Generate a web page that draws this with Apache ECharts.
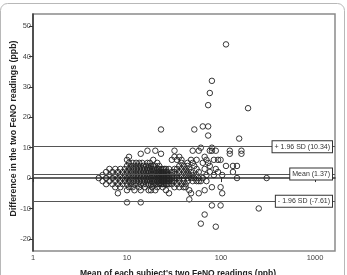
<!DOCTYPE html>
<html>
<head>
<meta charset="utf-8">
<title>FeNO Bland-Altman</title>
<script src="https://cdn.jsdelivr.net/npm/echarts@6/dist/echarts.min.js"></script>
<style>
    html, body { margin: 0; padding: 0; background: #fff; }
    #bland_altman { width: 347px; height: 275px; }
</style>
</head>
<body>
<div id="bland_altman"></div>
<script>

// Data
// ------------------------------

// Mean of the two readings (ppb) and the differences seen at that mean
var readingGroups = [
    [5, [0]],
    [5.5, [-1, 1]],
    [6, [-2, 0, 2]],
    [6.5, [-1, 1, 3]],
    [7, [-2, 0, 2]],
    [7.5, [-3, -1, 1, 3]],
    [8, [-5, -2, 0, 2]],
    [8.5, [-3, -1, 1, 3]],
    [9, [-2, 0, 2]],
    [9.5, [-1, 1, 3]],
    [10, [-8, -4, -2, 0, 2, 4, 6]],
    [10.5, [-3, -1, 1, 3, 5, 7]],
    [11, [-2, 0, 2, 4]],
    [11.5, [-3, -1, 1, 3, 5]],
    [12, [-4, -2, 0, 2, 4]],
    [12.5, [-1, 1, 3, 5]],
    [13, [-2, 0, 2, 4]],
    [13.5, [-3, -1, 1, 3, 5]],
    [14, [-8, -4, -2, 0, 2, 4, 8]],
    [14.5, [-1, 1, 3, 5]],
    [15, [-2, 0, 2, 4]],
    [15.5, [-3, -1, 1, 3]],
    [16, [-2, 0, 2, 4]],
    [16.5, [-1, 1, 3, 5, 9]],
    [17, [-4, -2, 0, 2, 4]],
    [17.5, [-1, 1, 3, 5]],
    [18, [-4, -2, 0, 2, 4]],
    [18.5, [-3, -1, 1, 3]],
    [19, [-2, 0, 2, 4, 6]],
    [19.5, [-1, 1, 3]],
    [20, [-4, -2, 0, 2, 4, 9]],
    [21, [-3, -2, -1, 0, 1, 2, 3, 5]],
    [22, [-2, -1, 0, 1, 2, 3, 4]],
    [23, [-2, -1, 0, 1, 2, 3, 8, 16]],
    [24, [-3, -2, -1, 0, 1, 2, 3]],
    [25, [-2, -1, 0, 1, 2, 3]],
    [26, [-4, -2, -1, 0, 1, 2, 3]],
    [27, [-2, -1, 0, 1, 2]],
    [28, [-5, -2, -1, 0, 1, 3]],
    [30, [-2, -1, 0, 1, 2, 6]],
    [32, [-3, -1, 0, 2, 3, 7, 9]],
    [34, [-2, 0, 1, 3, 6]],
    [36, [-3, -1, 0, 2, 4, 7]],
    [38, [-2, 1, 3, 5, 6]],
    [40, [-3, -1, 0, 2, 4]],
    [42, [-3, -2, 1, 3]],
    [44, [-1, 0, 2, 4, 5]],
    [46, [-7, -4, 1, 3]],
    [48, [-5, 0, 2, 6]],
    [50, [-1, 1, 5, 9]],
    [52, [0, 4, 16]],
    [55, [-1, 1, 3, 6]],
    [58, [-5, -1, 0, 2, 9]],
    [61, [-15, -1, 10]],
    [64, [0, 5, 17]],
    [67, [-12, -4, 3, 7]],
    [70, [-1, 1, 6]],
    [73, [5, 14, 17, 24]],
    [76, [2, 4, 9, 28]],
    [80, [-9, -3, 9, 10, 32]],
    [84, [1, 6]],
    [88, [-16, 3, 9]],
    [93, [2, 6]],
    [99, [-9, -3, 6]],
    [103, [-5, 1]],
    [113, [4, 44]],
    [124, [8, 9]],
    [134, [2, 4]],
    [148, [0, 4]],
    [156, [13]],
    [165, [8, 9]],
    [194, [23]],
    [252, [-10]],
    [306, [0]]
];

// Limits of agreement
var limitValues = [10.34, 1.37, -7.61];
var limitLabels = ['+ 1.96 SD (10.34)', 'Mean (1.37)', '- 1.96 SD (-7.61)'];

// Tick labels
var xTicks = [1, 10, 100, 1000];
var yTicks = [-20, -10, 0, 10, 20, 30, 40, 50];


// Setup module
// ------------------------------

var BlandAltmanFeno = function() {

    var _scatterPlot = function() {
        if (typeof echarts == 'undefined') {
            console.warn('Warning - echarts.min.js is not loaded.');
            return;
        }

        var element = document.getElementById('bland_altman');
        if (!element) {
            return;
        }

        var chart = echarts.init(element);

        // Styles
        var fontFamily = '"Liberation Sans", Arial, sans-serif',
            labelColor = '#444',
            axisColor = '#333',
            frameColor = '#8a8a8a',
            refLineColor = '#555',
            pointColor = '#222';

        // Flatten groups into points
        var points = [];
        readingGroups.forEach(function(group) {
            group[1].forEach(function(diff) {
                points.push([group[0], diff]);
            });
        });

        var limitLines = limitValues.map(function(v, i) {
            return {
                yAxis: v,
                label: { formatter: limitLabels[i] }
            };
        });

        chart.setOption({
            animation: false,
            backgroundColor: '#fff',

            textStyle: {
                fontFamily: fontFamily
            },

            // Outer card frame
            graphic: [{
                type: 'rect',
                silent: true,
                z: -10,
                shape: { x: 0.5, y: 3.5, width: 344, height: 320, r: 7 },
                style: { fill: 'none', stroke: '#b8b8b8', lineWidth: 1 }
            }],

            grid: {
                left: 33,
                right: 12,
                top: 14,
                bottom: 24,
                outerBoundsMode: 'none',
                containLabel: false,
                show: true,
                borderColor: frameColor,
                borderWidth: 1.5
            },

            xAxis: {
                type: 'log',
                logBase: 10,
                min: 1,
                max: 1632,
                name: "Mean of each subject's two FeNO readings (ppb)",
                nameLocation: 'middle',
                nameMoveOverlap: false,
                nameGap: 18,
                nameTextStyle: {
                    fontSize: 8.5,
                    fontWeight: 'bold',
                    color: '#222',
                    padding: [0, 12, 0, 0]
                },
                axisLine: { lineStyle: { color: axisColor, width: 1.5 } },
                axisTick: {
                    customValues: xTicks,
                    length: 4,
                    lineStyle: { color: axisColor }
                },
                axisLabel: {
                    customValues: xTicks,
                    fontSize: 7.5,
                    color: labelColor,
                    margin: 3,
                    formatter: function(v) { return String(Math.round(v)); }
                },
                splitLine: { show: false },
                minorTick: { show: false }
            },

            yAxis: {
                type: 'value',
                min: -24,
                max: 54,
                name: 'Difference in the two FeNO readings (ppb)',
                nameLocation: 'middle',
                nameMoveOverlap: false,
                nameGap: 15,
                nameTextStyle: {
                    fontSize: 8.8,
                    fontWeight: 'bold',
                    color: '#222',
                    padding: [0, 0, 0, 8]
                },
                axisLine: { lineStyle: { color: axisColor, width: 1.5 } },
                axisTick: {
                    customValues: yTicks,
                    length: 4,
                    lineStyle: { color: axisColor }
                },
                axisLabel: {
                    customValues: yTicks,
                    fontSize: 7.5,
                    color: labelColor,
                    margin: 2
                },
                splitLine: { show: false }
            },

            series: [{
                type: 'scatter',
                data: points,
                symbol: 'circle',
                symbolSize: 5.5,
                itemStyle: {
                    color: 'rgba(255,255,255,0)',
                    borderColor: pointColor,
                    borderWidth: 0.9,
                    opacity: 1
                },
                markLine: {
                    silent: true,
                    symbol: ['none', 'none'],
                    lineStyle: {
                        color: refLineColor,
                        width: 1,
                        type: 'solid'
                    },
                    label: {
                        position: 'insideEnd',
                        distance: 3,
                        fontSize: 7,
                        color: '#333',
                        backgroundColor: '#fff',
                        borderColor: '#333',
                        borderWidth: 1,
                        padding: [2, 2, 2, 2]
                    },
                    data: limitLines
                }
            }]
        });
    };

    return {
        init: function() {
            _scatterPlot();
        }
    };
}();


// Initialize module
// ------------------------------

document.addEventListener('DOMContentLoaded', function() {
    BlandAltmanFeno.init();
});
</script>
</body>
</html>
